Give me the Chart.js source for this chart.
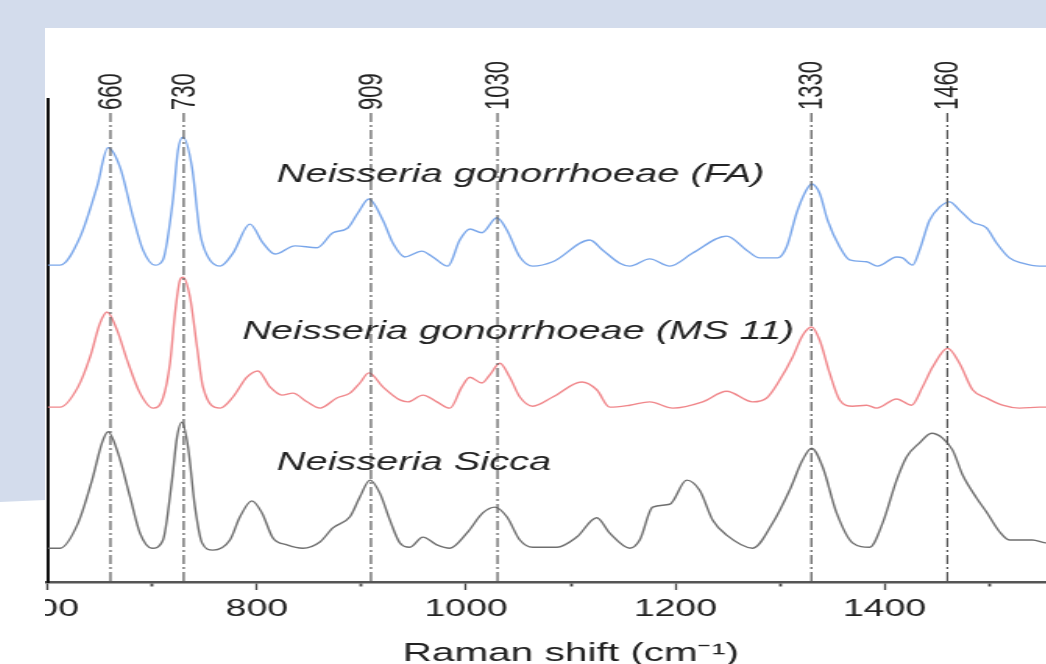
<!DOCTYPE html>
<html>
<head>
<meta charset="utf-8">
<script src="https://cdn.jsdelivr.net/npm/chart.js@4.4.1/dist/chart.umd.min.js"></script>
<style>
  html, body { margin: 0; padding: 0; }
  body { width: 1046px; height: 664px; background: #d3dcec; position: relative; overflow: hidden; }
  #corner { position: absolute; left: 0; top: 498px; width: 45px; height: 166px; background: #fff;
            clip-path: polygon(0 4px, 100% 2px, 100% 100%, 0 100%); }
  #panel { position: absolute; left: 45px; top: 28px; width: 1001px; height: 636px; background: #fff; overflow: hidden; }
  #wrap { position: absolute; left: 0; top: 0; width: 673px; height: 650px; transform: scaleX(1.56); transform-origin: 0 0; }
</style>
</head>
<body>
<div id="corner"></div>
<div id="panel"><div id="wrap"><canvas id="c"></canvas></div></div>
<script>
// ---- Data (Raman shift in cm^-1, intensity in arbitrary offset units) ----
const seriesNames = ['Neisseria gonorrhoeae (FA)', 'Neisseria gonorrhoeae (MS 11)', 'Neisseria Sicca'];

const shiftFA = [600, 611.8, 630.9, 647.1, 657.6, 669.1, 681.5, 691.1, 702.5, 710.2, 719.7, 724.5, 729.3, 737.9, 745.5, 753.2, 764.7, 777.1, 793.3, 805.7, 817.2, 836.3, 857.3, 872.6, 886.9, 896.5, 907.0, 920.4, 929.9, 941.4, 957.6, 968.1, 982.5, 993.9, 1003.5, 1015.0, 1029.3, 1038.9, 1051.3, 1063.7, 1082.8, 1118.1, 1130.6, 1146.8, 1156.4, 1175.5, 1194.6, 1216.6, 1249.0, 1268.1, 1280.6, 1297.8, 1306.4, 1315.9, 1323.6, 1330.2, 1337.9, 1345.5, 1357.0, 1366.5, 1382.8, 1393.3, 1411.5, 1417.2, 1426.7, 1433.4, 1443.0, 1452.5, 1462.1, 1471.6, 1484.1, 1497.4, 1507.0, 1519.4, 1531.8, 1548.1, 1575, 1600];
const intensityFA = [65.6, 65.6, 71.4, 81.8, 89.9, 85.9, 75.6, 68.7, 65.6, 66.7, 79.1, 89.4, 92.1, 85.9, 72.3, 67.3, 65.4, 68.1, 74.1, 70.2, 67.9, 69.6, 69.2, 72.3, 73.3, 76.4, 79.3, 74.9, 70.2, 67.3, 68.5, 67.3, 65.4, 70.8, 73.1, 72.3, 75.4, 72.9, 67.3, 65.4, 66.3, 70.8, 68.7, 66.0, 65.4, 66.9, 65.4, 68.1, 71.6, 68.7, 67.1, 67.1, 69.4, 76.4, 80.5, 82.4, 80.5, 74.9, 69.4, 66.7, 66.3, 65.4, 67.3, 67.1, 65.6, 68.7, 74.9, 77.6, 78.7, 77.0, 74.5, 73.3, 70.2, 67.1, 66.0, 65.4, 65.4, 65.4];

const shiftMS11 = [600, 611.8, 629.0, 640.5, 650.0, 656.7, 666.2, 675.8, 688.2, 700.6, 710.2, 716.9, 721.7, 726.4, 729.3, 736.0, 742.7, 748.4, 764.7, 777.1, 790.4, 801.0, 812.4, 823.9, 834.4, 847.8, 860.2, 876.4, 888.9, 898.4, 907.0, 920.4, 936.6, 944.3, 958.6, 972.0, 984.4, 995.9, 1003.5, 1015.0, 1022.6, 1032.2, 1041.7, 1051.3, 1063.7, 1082.8, 1110.5, 1124.8, 1137.3, 1156.4, 1175.5, 1197.5, 1226.1, 1249.0, 1273.9, 1287.3, 1299.7, 1312.1, 1321.7, 1330.2, 1337.9, 1347.4, 1357.0, 1369.4, 1382.8, 1392.3, 1411.5, 1425.8, 1436.3, 1445.9, 1460.2, 1471.6, 1484.1, 1497.4, 1512.7, 1529.0, 1548.1, 1575, 1600];
const intensityMS11 = [36.2, 36.2, 40.4, 46.6, 53.6, 55.9, 52.2, 46.0, 39.1, 36.0, 38.1, 45.3, 55.7, 62.5, 63.1, 59.0, 48.7, 40.4, 36.0, 38.3, 42.4, 43.7, 40.4, 38.7, 39.1, 37.3, 36.0, 38.1, 39.1, 41.2, 43.3, 40.4, 37.7, 37.3, 38.7, 37.3, 36.0, 40.4, 42.4, 41.2, 42.9, 45.3, 42.4, 38.3, 36.4, 38.3, 41.4, 39.8, 36.2, 36.6, 37.3, 36.0, 37.3, 39.5, 37.3, 38.1, 41.8, 46.6, 51.1, 52.8, 50.1, 43.3, 37.7, 36.4, 36.6, 36.0, 37.9, 36.6, 40.4, 44.5, 48.4, 45.3, 39.8, 38.1, 36.6, 36.0, 36.2, 36.2, 36.2];

const shiftSicca = [600, 611.8, 629.0, 642.4, 651.9, 657.6, 667.2, 678.7, 688.2, 699.7, 710.2, 718.8, 723.6, 728.3, 734.1, 740.8, 747.5, 758.0, 774.2, 783.8, 795.2, 804.8, 815.3, 828.7, 843.9, 860.2, 872.6, 888.9, 898.4, 908.0, 917.5, 927.1, 936.6, 946.2, 958.6, 972.0, 984.4, 1000.6, 1015.9, 1027.4, 1038.9, 1051.3, 1063.7, 1086.6, 1105.7, 1124.8, 1137.3, 1156.4, 1165.9, 1178.3, 1194.6, 1210.8, 1223.2, 1235.7, 1249.0, 1273.9, 1293.0, 1309.2, 1321.7, 1330.2, 1340.8, 1354.1, 1369.4, 1385.7, 1398.1, 1411.5, 1421.0, 1433.4, 1444.9, 1455.4, 1465.0, 1474.5, 1487.9, 1497.4, 1509.9, 1519.4, 1541.4, 1553.8, 1575, 1600];
const intensitySicca = [7.0, 7.0, 12.2, 21.1, 28.8, 31.1, 26.7, 17.6, 10.1, 7.0, 8.7, 21.1, 30.0, 33.1, 28.0, 15.5, 8.1, 6.6, 8.7, 13.5, 16.8, 14.3, 9.1, 7.7, 7.0, 8.3, 11.2, 13.5, 17.6, 21.1, 18.4, 12.8, 8.1, 7.2, 9.3, 7.7, 7.0, 10.1, 14.3, 15.5, 13.5, 8.7, 7.2, 7.2, 9.3, 13.3, 10.1, 7.0, 8.7, 15.5, 16.1, 21.1, 19.0, 12.8, 9.7, 7.0, 12.2, 19.0, 25.3, 27.7, 23.8, 14.3, 8.1, 7.2, 12.2, 21.1, 25.9, 28.8, 30.8, 29.8, 27.3, 22.2, 17.4, 14.5, 10.4, 8.7, 8.7, 8.1, 8.0, 8.0];

const peakPositions = [660, 730, 909, 1030, 1330, 1460];
const peakLabels = ['660', '730', '909', '1030', '1330', '1460'];
const majorTicks = [600, 800, 1000, 1200, 1400, 1600];
const nameAnchorShift = [819, 786, 819];
const nameAnchorIntensity = [84.3, 51.8, 24.6];

// ---- Chart ----
const FONT = '"Liberation Sans", Arial, sans-serif';
const toXY = (xs, ys) => xs.map((x, i) => ({ x: x, y: ys[i] }));

const annotations = {
  id: 'annotations',
  afterDatasetsDraw(chart) {
    const { ctx, chartArea, scales: { x, y } } = chart;
    ctx.save();
    // dash-dot peak markers
    peakPositions.forEach((p, i) => {
      const px = x.getPixelForValue(p);
      ctx.beginPath();
      ctx.setLineDash([9, 3, 2, 3]);
      ctx.strokeStyle = '#5a5a5a';
      ctx.lineWidth = 1.2;
      ctx.moveTo(px, chartArea.top + 14);
      ctx.lineTo(px, chartArea.bottom);
      ctx.stroke();
      ctx.setLineDash([]);
      ctx.save();
      ctx.translate(px + 0.8, chartArea.top + 11);
      ctx.rotate(-Math.PI / 2);
      ctx.font = '22px ' + FONT;
      ctx.fillStyle = '#222';
      ctx.textAlign = 'left';
      ctx.textBaseline = 'middle';
      ctx.fillText(peakLabels[i], 0, 0);
      ctx.restore();
    });
    // series names
    ctx.font = 'italic 25.5px ' + FONT;
    ctx.fillStyle = '#222';
    ctx.textAlign = 'left';
    ctx.textBaseline = 'middle';
    seriesNames.forEach((n, i) => {
      ctx.fillText(n, x.getPixelForValue(nameAnchorShift[i]), y.getPixelForValue(nameAnchorIntensity[i]));
    });
    ctx.restore();
  }
};

new Chart(document.getElementById('c'), {
  type: 'line',
  data: {
    datasets: [
      { label: seriesNames[0], data: toXY(shiftFA, intensityFA), borderColor: '#79a6ea', borderWidth: 1.4 },
      { label: seriesNames[1], data: toXY(shiftMS11, intensityMS11), borderColor: '#f0868a', borderWidth: 1.4 },
      { label: seriesNames[2], data: toXY(shiftSicca, intensitySicca), borderColor: '#6e6e6e', borderWidth: 1.4 }
    ]
  },
  options: {
    responsive: true,
    maintainAspectRatio: false,
    animation: false,
    parsing: true,
    elements: { point: { radius: 0 }, line: { cubicInterpolationMode: 'monotone', fill: false } },
    layout: { padding: { left: 1.73, top: 71, right: 0, bottom: 0 } },
    plugins: { legend: { display: false }, tooltip: { enabled: false } },
    scales: {
      x: {
        type: 'linear', min: 600, max: 1600,
        afterFit(s) { s.height = 96; s.paddingLeft = 0; s.paddingRight = 0; },
        ticks: {
          stepSize: 100, autoSkip: false, maxRotation: 0, padding: 5,
          color: '#222', font: { family: FONT, size: 24 },
          callback: (v) => majorTicks.includes(v) ? String(v) : ''
        },
        grid: {
          drawOnChartArea: false, drawTicks: true, tickLength: 8,
          tickColor: '#444',
          tickWidth: (c) => (c.tick && majorTicks.includes(c.tick.value)) ? 1.3 : 1.8,
          tickBorderDash: (c) => (c.tick && majorTicks.includes(c.tick.value)) ? [] : [3, 100]
        },
        border: { display: true, color: '#555', width: 2.5 },
        title: {
          display: true, text: 'Raman shift (cm⁻¹)', color: '#222',
          font: { family: FONT, size: 26, lineHeight: 1.2 },
          padding: { top: 0, bottom: 9 }
        }
      },
      y: {
        min: 0, max: 100,
        afterFit(s) { s.width = 0; },
        ticks: { display: false },
        grid: { display: false },
        border: { display: true, color: '#111', width: 2 }
      }
    }
  },
  plugins: [annotations]
});
</script>
</body>
</html>
